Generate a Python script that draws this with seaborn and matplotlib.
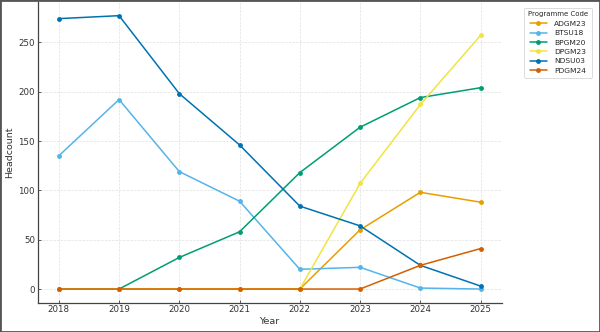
import matplotlib
matplotlib.use("Agg")
import matplotlib.pyplot as plt
import seaborn as sns
import pandas as pd
from matplotlib.patches import Rectangle

years = [2018, 2019, 2020, 2021, 2022, 2023, 2024, 2025]
programmes = ["ADGM23", "BTSU18", "BPGM20", "DPGM23", "NDSU03", "PDGM24"]
adgm23 = [0, 0, 0, 0, 0, 60, 98, 88]
btsu18 = [135, 192, 119, 89, 20, 22, 1, 0]
bpgm20 = [0, 0, 32, 58, 118, 164, 194, 204]
dpgm23 = [0, 0, 0, 0, 0, 107, 187, 257]
ndsu03 = [274, 277, 198, 146, 84, 64, 24, 3]
pdgm24 = [0, 0, 0, 0, 0, 0, 24, 41]
colors = ["#E69F00", "#56B4E9", "#009E73", "#F0E442", "#0072B2", "#D55E00"]

series = [adgm23, btsu18, bpgm20, dpgm23, ndsu03, pdgm24]
rows = []
for p, vals in zip(programmes, series):
    for y, v in zip(years, vals):
        rows.append({"Year": y, "Headcount": v, "Programme Code": p})
df = pd.DataFrame(rows)

sns.set_theme(style="ticks")
plt.rcParams['font.family'] = ['DejaVu Sans']

fig = plt.figure(figsize=(6, 3.32), dpi=100)
ax = fig.add_axes([37.7/600, (332-302.7)/332, (501.7-37.7)/600, (302.7-2.0)/332])
sns.lineplot(data=df, x="Year", y="Headcount", hue="Programme Code",
             hue_order=programmes, palette=colors, marker="o", markersize=3.5,
             markeredgewidth=0, linewidth=1.1, ax=ax, legend=True)
ax.grid(True, linestyle="--", linewidth=0.5, color="#e0e0e0")
ax.set_axisbelow(True)
sns.despine(ax=ax)
for s in ["left", "bottom"]:
    ax.spines[s].set_color("#444444")
    ax.spines[s].set_linewidth(0.9)
ax.tick_params(axis="both", direction="in", length=2.5, width=0.6,
               labelsize=6.2, colors="#444444", labelcolor="#333333", pad=2)
ax.set_xticks(years)
ax.set_xlabel("Year", fontsize=6.8, color="#333333", labelpad=1.5)
ax.set_ylabel("Headcount", fontsize=6.8, color="#333333", labelpad=3)

h, l = ax.get_legend_handles_labels()
ax.get_legend().remove()
leg = fig.legend(h, l, title="Programme Code", loc="upper right",
                 bbox_to_anchor=(0.993, 0.988), fontsize=5.4, title_fontsize=5.0,
                 frameon=True, borderpad=0.5, labelspacing=0.42, handlelength=2.3,
                 handletextpad=1.0)
leg.get_frame().set_edgecolor("#cccccc")
leg.get_frame().set_linewidth(0.6)

fig.patches.append(Rectangle((0, 0), 1, 1, transform=fig.transFigure,
                             fill=False, edgecolor="#555555", linewidth=2))
fig.savefig("out.png", dpi=100)
